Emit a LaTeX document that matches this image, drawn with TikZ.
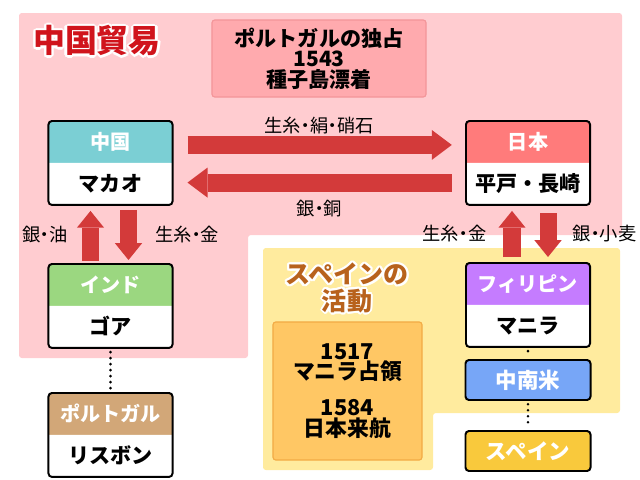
\documentclass[tikz,border=0pt]{standalone}
\usepackage{fontspec}
\setmainfont{Noto Sans CJK JP}
\newfontfamily\goodsfont[RawFeature=+palt]{Noto Sans CJK JP}
\usepackage{contour}
\usetikzlibrary{shapes.multipart,arrows.meta,positioning}
\contourlength{1.5pt}
\definecolor{pinkbg}{HTML}{FFCCD0}
\definecolor{yellowbg}{HTML}{FFEB9E}
\definecolor{arrowred}{HTML}{D33A3A}
\definecolor{titlered}{HTML}{D0141C}
\definecolor{titlebrown}{HTML}{B8621C}
\definecolor{monopfill}{HTML}{FFAAAE}
\definecolor{monopline}{HTML}{F39599}
\definecolor{yearfill}{HTML}{FFC764}
\definecolor{yearline}{HTML}{F2AB45}
\definecolor{chinahead}{HTML}{7BCFD4}
\definecolor{japanhead}{HTML}{FF7B7B}
\definecolor{indiahead}{HTML}{9BD780}
\definecolor{portuhead}{HTML}{D2A778}
\definecolor{philihead}{HTML}{C57CFF}
\definecolor{latamfill}{HTML}{77A6F7}
\definecolor{spainfill}{HTML}{F9C93C}
\newcommand{\Place}[2]{\color{white}\fontsize{14.3}{16}\selectfont\rule[-0.31cm]{0pt}{1cm}#1%
  \nodepart{two}\rule[-0.31cm]{0pt}{1cm}#2}
\tikzset{
  place/.style={rectangle split, rectangle split parts=2, rectangle split draw splits=false,
    rectangle split part fill={#1,white}, draw=black, line width=1.4pt, rounded corners=2.5pt,
    text width=3.1cm, align=center, inner xsep=0pt, inner ysep=0pt, anchor=north,
    font=\bfseries\fontsize{15}{16}\selectfont},
  region/.style={draw=black, line width=1.4pt, rounded corners=2.5pt, minimum width=3.125cm,
    minimum height=1cm, text=white, inner sep=0pt, font=\bfseries\fontsize{15.3}{16}\selectfont},
  fatarrow/.style={draw=arrowred, line width=0.45cm, -{Triangle[width=0.75cm,length=0.5cm,line width=0pt]}},
  thinarrow/.style={draw=arrowred, line width=0.425cm, -{Triangle[width=0.68cm,length=0.42cm,line width=0pt]}},
  goods/.style={inner sep=0pt, font=\goodsfont\fontsize{13}{14}\selectfont},
  dotline/.style={line width=0.07cm, line cap=round, dash pattern=on 0pt off 0.15cm, shorten <=0.08cm, shorten >=0.06cm},
}
\begin{document}
\begin{tikzpicture}[x=0.025cm,y=-0.025cm]
  \useasboundingbox (0,0) rectangle (640,480);
  \fill[pinkbg, rounded corners=2pt] (19,13) -- (622,13) -- (622,235) -- (248,235) -- (248,358) -- (19,358) -- cycle;
  \fill[yellowbg, rounded corners=2pt] (263,248) -- (620,248) -- (620,413) -- (433,413) -- (433,470) -- (263,470) -- cycle;
  \node[text=titlered, font=\bfseries\fontsize{22.7}{24}\selectfont] (tradetitle) at (97,42) {\contour{white}{中国貿易}};
  \node[draw=monopline, fill=monopfill, line width=0.8pt, rounded corners=2pt, minimum width=5.35cm, minimum height=1.925cm,
    align=center, font=\bfseries\fontsize{15}{14.5}\selectfont] (monopoly) at (319,58.5) {ポルトガルの独占\\1543\\種子島漂着};
  \node[place=chinahead] (china) at (110.5,120) {\Place{中国}{マカオ}};
  \node[place=japanhead] (japan) at (528,120) {\Place{日本}{平戸・長崎}};
  \node[place=indiahead] (goa) at (110.5,263) {\Place{インド}{ゴア}};
  \node[place=portuhead] (lisbon) at (110.5,392) {\Place{ポルトガル}{リスボン}};
  \node[place=philihead] (manila) at (528,262) {\Place{フィリピン}{マニラ}};
  \node[region, fill=latamfill] (latam) at (528,380) {中南米};
  \node[region, fill=spainfill] (spain) at (528,451) {スペイン};
  \node[text=titlebrown, align=center, font=\bfseries\fontsize{17.8}{17.7}\selectfont] (spaintitle) at (347,289)
    {\contour{white}{スペインの}\\\contour{white}{活動}};
  \node[draw=yearline, fill=yearfill, line width=0.8pt, rounded corners=2pt, minimum width=3.725cm, minimum height=3.45cm,
    align=center, font=\bfseries\fontsize{15.5}{14.5}\selectfont] (spainyears) at (347.5,391) {1517\\マニラ占領\\[11pt]1584\\日本来航};
  \draw[fatarrow, shorten <=0.35cm, shorten >=0.33cm] ([yshift=0.45cm]china.east) -- node[goods, above=0.05cm] {生糸・絹・硝石} ([yshift=0.45cm]japan.west);
  \draw[fatarrow, shorten <=0.33cm, shorten >=0.35cm] ([yshift=-0.49cm]japan.west) -- node[goods, below=0.21cm] {銀・銅} ([yshift=-0.49cm]china.east);
  \draw[thinarrow, shorten <=0.05cm, shorten >=0.125cm] ([xshift=-0.5cm]goa.north) -- node[goods, left=0.35cm] {銀・油} ([xshift=-0.5cm]china.south);
  \draw[thinarrow, shorten <=0.1cm, shorten >=0.075cm] ([xshift=0.45cm]china.south) -- node[goods, right=0.45cm] {生糸・金} ([xshift=0.45cm]goa.north);
  \draw[thinarrow, shorten <=0.125cm, shorten >=0.125cm] ([xshift=-0.4cm]manila.north) -- node[goods, left=0.43cm] {生糸・金} ([xshift=-0.4cm]japan.south);
  \draw[thinarrow, shorten <=0.18cm, shorten >=0.125cm] ([xshift=0.5cm]japan.south) -- node[goods, right=0.4cm] {銀・小麦} ([xshift=0.5cm]manila.north);
  \draw[dotline] (goa) -- (lisbon);
  \draw[dotline] (manila) -- (latam);
  \draw[dotline] (latam) -- (spain);
\end{tikzpicture}
\end{document}
